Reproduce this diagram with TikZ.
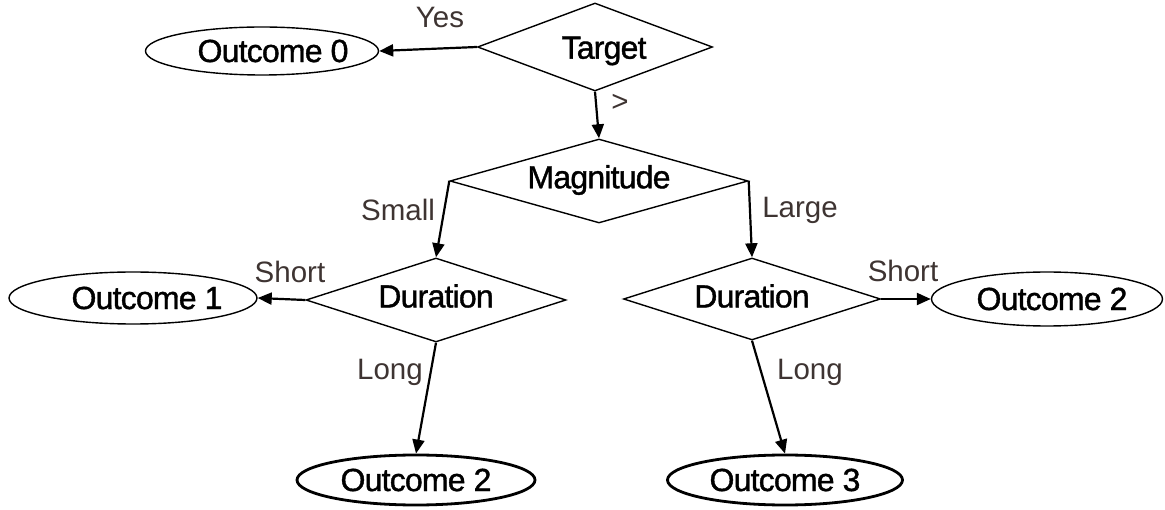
\documentclass[tikz,border=0pt]{standalone}
\usepackage{fontspec}
\setmainfont{Liberation Sans}
\newfontfamily\nodefont[LetterSpace=-2.5,FakeBold=1.2]{Liberation Sans}
\usetikzlibrary{shapes.geometric,arrows.meta}
\definecolor{lblcol}{RGB}{62,52,50}
\tikzset{
  x=1pt, y=1pt,
  decision/.style={diamond, draw, line width=1.4pt, inner sep=0pt},
  outc/.style={ellipse, draw, line width=1.4pt, inner sep=0pt},
  finalout/.style={outc, line width=2.8pt},
  ntext/.style={font=\nodefont\fontsize{32}{38}\selectfont, text=black, inner sep=0pt},
  lbl/.style={font=\fontsize{29.5}{34}\selectfont, text=lblcol, inner sep=0pt},
  flow/.style={line width=2.2pt, -{Triangle[length=14pt,width=12pt]}}
}
\begin{document}
\begin{tikzpicture}
\useasboundingbox (0,0) rectangle (1165,509);

% decision diamonds
\node[decision, minimum width=235pt, minimum height=88pt,
      label={[ntext,xshift=9pt,yshift=-4pt]center:Target}] (target) at (595,462) {};
\node[decision, minimum width=298pt, minimum height=84pt,
      label={[ntext,yshift=1pt]center:Magnitude}] (mag) at (599,328) {};
\node[decision, minimum width=260pt, minimum height=84pt,
      label={[ntext,yshift=4pt]center:Duration}] (durL) at (436,209) {};
\node[decision, minimum width=257pt, minimum height=82pt,
      label={[ntext,yshift=3pt]center:Duration}] (durR) at (752,210) {};

% outcomes
\node[outc, minimum width=233pt, minimum height=48pt,
      label={[ntext,xshift=11pt]center:Outcome 0}] (out0) at (262,458) {};
\node[outc, minimum width=248pt, minimum height=52pt,
      label={[ntext,xshift=14pt]center:Outcome 1}] (out1) at (133,211) {};
\node[outc, minimum width=231pt, minimum height=54pt,
      label={[ntext,xshift=5pt]center:Outcome 2}] (out2r) at (1047,210) {};
\node[finalout, minimum width=238pt, minimum height=50pt,
      label={[ntext]center:Outcome 2}] (out2) at (416,29) {};
\node[finalout, minimum width=235pt, minimum height=50pt,
      label={[ntext]center:Outcome 3}] (out3) at (785,29) {};

% connectors
\draw[flow] (target.west) -- (out0.east);
\draw[flow] (target.south) -- (mag.north);
\draw[flow] (mag.west) -- (durL.north);
\draw[flow] (mag.east) -- (durR.north);
\draw[flow] (durL.west) -- (out1.east);
\draw[flow] (durR.east) -- (out2r.west);
\draw[flow] (durL.south) -- (out2.north);
\draw[flow] (durR.south) -- (out3.north);

% branch labels
\node[lbl] (lyes) at (440,491) {Yes};
\node[lbl] (lgt) at (620,406) {>};
\node[lbl] (lsmall) at (398,299) {Small};
\node[lbl] (llarge) at (800,299) {Large};
\node[lbl] (lshortL) at (290,237) {Short};
\node[lbl] (lshortR) at (903,238) {Short};
\node[lbl] (llongL) at (390,137) {Long};
\node[lbl] (llongR) at (810,137) {Long};
\end{tikzpicture}
\end{document}
